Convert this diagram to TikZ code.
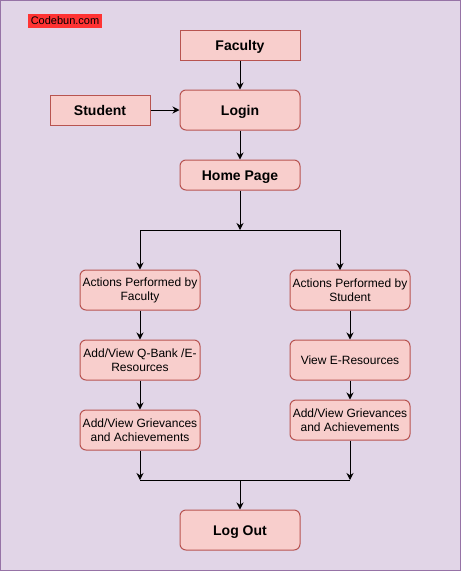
\documentclass[tikz,border=0pt]{standalone}
\usepackage{fontspec}
\setmainfont{Liberation Sans}
\usetikzlibrary{arrows.meta}
\definecolor{bgfill}{HTML}{E1D5E7}
\definecolor{bgline}{HTML}{9673A6}
\definecolor{boxfill}{HTML}{F8CECC}
\definecolor{boxline}{HTML}{B85450}
\definecolor{tagred}{HTML}{FF3333}

\begin{document}
\begin{tikzpicture}[x=1pt,y=-1pt,line width=1pt,>={Stealth[length=7pt,width=7pt]}]

      \draw[fill=bgfill,draw=bgline] (0.5,0.5) rectangle (460.5,570.5);
      \useasboundingbox (0,0) rectangle (461,571);

      \node[fill=tagred, inner sep=0pt, minimum width=74pt, minimum height=14pt,
            font=\fontsize{11}{13}\selectfont] (tag) at (65,21) {Codebun.com};

      \begin{scope}[every node/.style={draw=boxline, fill=boxfill, minimum width=120pt,
          minimum height=30pt, inner sep=0pt, text height=10pt, text depth=0pt,
          font=\bfseries\fontsize{14}{16}\selectfont}]
        \node (faculty) at (240,45)  {Faculty};
        \node[minimum width=100pt] (student) at (100,110) {Student};
        \node[rounded corners=6pt, minimum height=40pt] (login)  at (240,110) {Login};
        \node[rounded corners=6pt] (home)   at (240,175) {Home Page};
        \node[rounded corners=6pt, minimum height=40pt] (logout) at (240,530) {Log Out};
      \end{scope}

      \begin{scope}[every node/.style={draw=boxline, fill=boxfill, rounded corners=6pt,
          minimum width=120pt, minimum height=40pt, inner sep=0pt, align=center,
          font=\fontsize{12}{14}\selectfont}]
        \node (facact) at (140,290) {Actions Performed by\\Faculty};
        \node (facres) at (140,360) {Add/View Q-Bank /E-\\Resources};
        \node (facgri) at (140,430) {Add/View Grievances\\and Achievements};
        \node (stuact) at (350,290) {Actions Performed by\\Student};
        \node (stures) at (350,360) {View E-Resources};
        \node (stugri) at (350,420) {Add/View Grievances\\and Achievements};
      \end{scope}

      \coordinate (split)  at (240,230);
      \coordinate (stutop) at (340,270);
      \coordinate (joinl)  at (140,480);
      \coordinate (join)   at (240,480);
      \coordinate (joinr)  at (350,480);

      \begin{scope}[every edge/.style={draw,->}]
        \path (faculty) edge (login);
        \path (student) edge (login);
        \path (login)   edge (home);
        \path (home)    edge (split);
        \path (facact)  edge (facres);
        \path (facres)  edge (facgri);
        \path (stuact)  edge (stures);
        \path (stures)  edge (stugri);
        \path (facgri)  edge (joinl);
        \path (stugri)  edge (joinr);
        \path (join)    edge (logout);
      \end{scope}
      \draw[->] (split) -| (facact);
      \draw[->] (split) -| (stutop);
      \draw (joinl) -- (joinr);

    \end{tikzpicture}
\end{document}
